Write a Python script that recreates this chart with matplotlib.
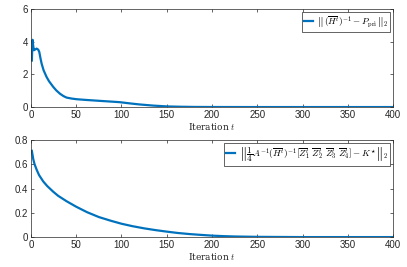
import matplotlib
matplotlib.use("Agg")
import matplotlib.pyplot as plt

# error of the Hessian estimate vs iteration
t_top = [1, 1.8, 2.5, 3.3, 4.5, 6.3, 8, 9.2, 10.5, 11.8, 14, 17.3, 20, 24.7, 28, 32,
         36, 39.4, 45, 50.5, 60, 76, 90, 98, 110, 120, 135, 150, 165, 180, 200, 250, 300, 350, 400]
err_top = [2.85, 4.12, 3.75, 3.48, 3.52, 3.58, 3.52, 3.38, 3.0, 2.66, 2.25, 1.84, 1.58, 1.23, 1.02, 0.82,
           0.67, 0.58, 0.52, 0.48, 0.44, 0.38, 0.33, 0.3, 0.22, 0.16, 0.09, 0.04, 0.02, 0.008, 0.003, 0.0, 0.0, 0.0, 0.0]

# error of the gain estimate vs iteration
t_bot = [1, 2.6, 4, 6.3, 9, 13.6, 18, 24.7, 30, 39.4, 50, 62, 75, 88, 100, 112, 125,
         138, 150, 162, 175, 188, 200, 212, 225, 250, 275, 300, 350, 400]
err_bot = [0.71, 0.64, 0.6, 0.555, 0.51, 0.458, 0.42, 0.373, 0.34, 0.295, 0.25, 0.205, 0.165, 0.135,
           0.11, 0.09, 0.072, 0.057, 0.045, 0.034, 0.025, 0.018, 0.012, 0.008, 0.005, 0.002, 0.001, 0.0, 0.0, 0.0]

label_top = r"$\left\Vert\,(\overline{H}^t)^{-1}-P_{\mathrm{pri}}\,\right\Vert_2$"
label_bot = (r"$\left\Vert\dfrac{1}{4}A^{-1}(\overline{H}^t)^{-1}\left[\overline{Z}^t_1\ \overline{Z}^t_2\ "
             r"\overline{Z}^t_3\ \overline{Z}^t_4\right]-K^{\star}\right\Vert_2$")

plt.rcParams["mathtext.fontset"] = "cm"
plt.rcParams["font.family"] = ["Liberation Sans", "DejaVu Sans"]

blue = "#0072BD"
axcol = "#262626"

fig = plt.figure(figsize=(4.07, 2.67), dpi=100)
ax1 = fig.add_axes([0.076, 0.599, 0.89, 0.367])
ax2 = fig.add_axes([0.076, 0.112, 0.89, 0.364])

setups = [
    (ax1, t_top, err_top, label_top, [0, 6], [0, 2, 4, 6], None),
    (ax2, t_bot, err_bot, label_bot, [0, 0.8], [0, 0.2, 0.4, 0.6, 0.8], ["0", "0.2", "0.4", "0.6", "0.8"]),
]
for ax, x, y, lab, ylim, yt, ytl in setups:
    ax.plot(x, y, color=blue, lw=1.6, label=lab)
    ax.set_xlim(0, 400)
    ax.set_ylim(*ylim)
    ax.set_xticks(range(0, 401, 50))
    ax.set_yticks(yt)
    if ytl:
        ax.set_yticklabels(ytl)
    ax.tick_params(direction="in", top=True, right=True, labelsize=7, length=2.5,
                   width=0.5, colors=axcol, pad=2)
    for s in ax.spines.values():
        s.set_linewidth(0.5)
        s.set_color(axcol)
    ax.set_xlabel(r"Iteration $t$", fontsize=6.5, labelpad=0.5,
                  fontname="DejaVu Serif", color=axcol)
    leg = ax.legend(loc="upper right", fontsize=6.6, handlelength=1.0, handletextpad=0.4,
                    borderpad=0.25, fancybox=False, edgecolor=axcol, framealpha=1,
                    borderaxespad=0.3)
    leg.get_frame().set_linewidth(0.5)

fig.savefig("out.png", dpi=100)
